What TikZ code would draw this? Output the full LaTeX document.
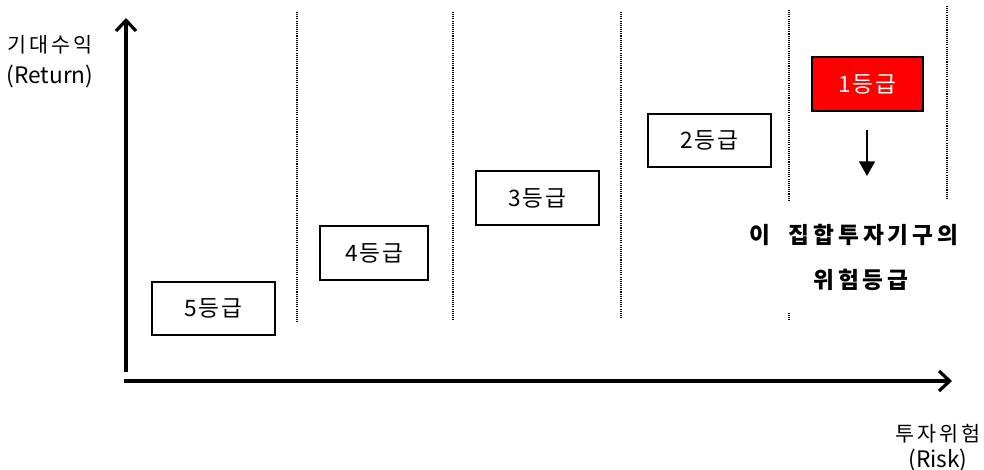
\documentclass[tikz,border=0pt]{standalone}
\usepackage{fontspec}
\setmainfont{Noto Sans CJK KR}
\newfontfamily\krwide[LetterSpace=16]{Noto Sans CJK KR}
\newfontfamily\krbox[LetterSpace=8]{Noto Sans CJK KR}
\newfontfamily\krbold[LetterSpace=17]{Noto Sans CJK KR}
\usepackage{xcolor}
\usepackage{tikz}
\usetikzlibrary{positioning,arrows.meta}

\definecolor{topred}{RGB}{255,0,0}

\begin{document}
\begin{tikzpicture}[x=0.75pt, y=-0.75pt, >=Latex,
    gradebox/.style={draw, line width=1.3pt, inner sep=0pt,
        minimum width=92pt, minimum height=40pt,
        font=\krbox\fontsize{17}{19}\selectfont},
    sepline/.style={line width=0.8pt, dash pattern=on 0.8pt off 0.8pt},
    axis/.style={line width=3pt, -{Straight Barb[length=8pt,width=15pt,line width=2.4pt]}},
    axlabel/.style={align=center, font=\fontsize{17}{23}\selectfont}]

\useasboundingbox (0,0) rectangle (984,470);

% ===========================
% Column separators
% ===========================
\foreach \x/\ybot in {297/323, 453/321, 621/318}
    \draw[sepline] (\x,12) -- (\x,\ybot);
\draw[sepline] (789,10) -- (789,200);
\draw[sepline] (789,313) -- (789,320);
\draw[sepline] (947,6) -- (947,200);

% ===========================
% Axes
% ===========================
\coordinate (ybase) at (126,372);
\coordinate (ytop)  at (126,18);
\coordinate (xbase) at (124,381);
\coordinate (xend)  at (952,381);
\draw[axis] (ybase) -- (ytop);
\draw[axis] (xbase) -- (xend);

\node[axlabel] (retlbl) at (50,62) {{\krwide\fontsize{15.5}{23}\selectfont 기대수익}\\(Return)};
\node[axlabel, font=\fontsize{17}{19}\selectfont] (risklbl) at (938,448) {{\krwide\fontsize{15.5}{19}\selectfont 투자위험}\\(Risk)};

% ===========================
% Grade boxes
% ===========================
\node[gradebox] (g5) at (213.5,308.5) {5등급};
\node[gradebox, minimum width=81pt] (g4) at (374,253) {4등급};
\node[gradebox] (g3) at (537.5,198) {3등급};
\node[gradebox] (g2) at (709.5,140.5) {2등급};
\node[gradebox, minimum width=83pt, fill=topred, text=white] (g1) at (867.5,84) {1등급};

% ===========================
% This fund's grade
% ===========================
\coordinate (arrtop) at (867,130);
\coordinate (arrtip) at (867,176);
\draw[line width=1.2pt, -{Triangle[length=11pt,width=12pt]}] (arrtop) -- (arrtip);

\node[font=\krbold\fontsize{17}{19}\bfseries] (fundlbl) at (854,235) {이\ \ 집합투자기구의};
\node[font=\krbold\fontsize{17}{19}\bfseries] (risklvl) at (861,280) {위험등급};

\end{tikzpicture}
\end{document}
